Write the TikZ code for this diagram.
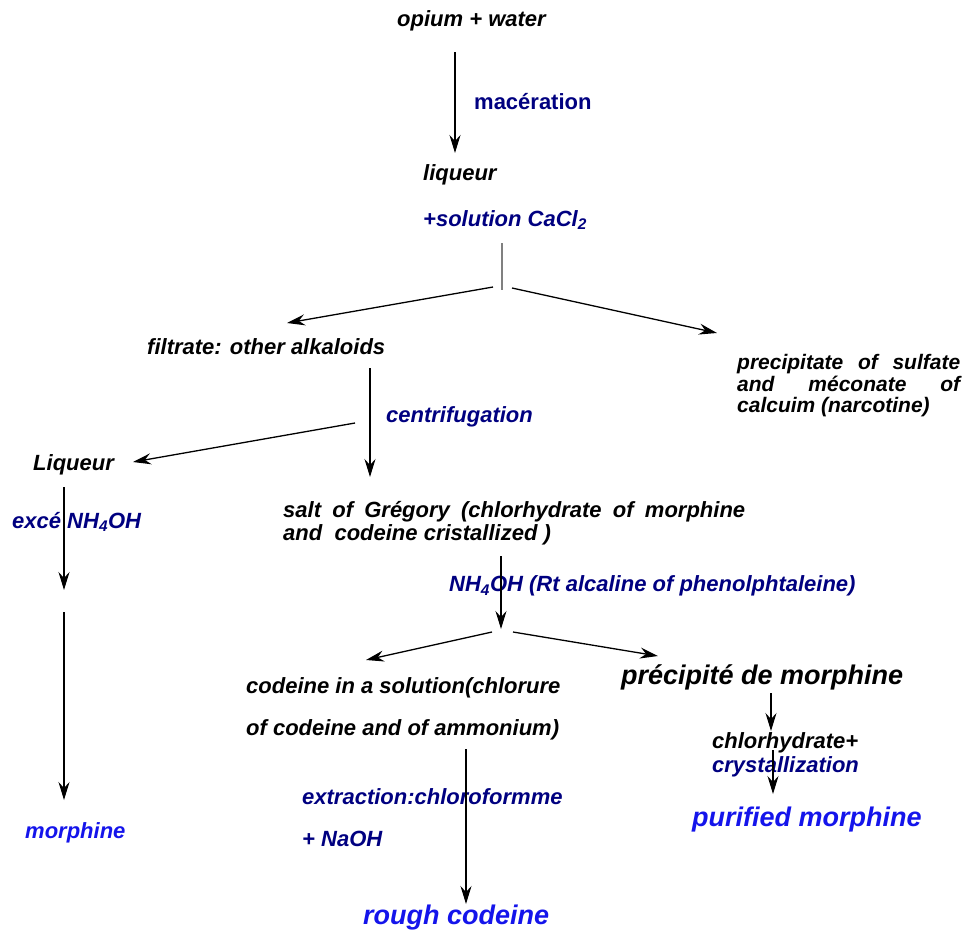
\documentclass[tikz,border=0pt]{standalone}
\usepackage{fontspec}
\setmainfont{Liberation Sans}
\usetikzlibrary{arrows.meta}
\definecolor{condnavy}{RGB}{0,0,128}
\definecolor{prodblue}{RGB}{20,20,235}
\tikzset{
    txt/.style={font=\fontsize{22}{22}\selectfont\bfseries\itshape, inner sep=0pt, anchor=west, align=left},
    cond/.style={txt, text=condnavy},
    prod/.style={txt, text=prodblue},
    big/.style={font=\fontsize{27}{30}\selectfont\bfseries\itshape},
    flow/.style={-{Stealth[length=18pt,width=11pt,inset=6pt]}, line width=1.3pt},
    split/.style={line width=1.3pt}
}
\begin{document}
\begin{tikzpicture}[x=1pt,y=-1pt]
                    \useasboundingbox (0,0) rectangle (970,935);

                    % texts
                    \node[txt] (opium) at (397,21) {opium + water};
                    \node[cond, font=\fontsize{22}{22}\selectfont\bfseries] (macer) at (474,102) {macération};
                    \node[txt] (liq) at (423,175) {liqueur};
                    \node[cond] (cacl) at (423,220) {+solution CaCl\textsubscript{2}};
                    \node[txt] (filtrate) at (147,347) {filtrate: other alkaloids};
                    \node[txt, font=\fontsize{21}{21.5}\selectfont\bfseries\itshape] (precip) at (737,386) {\makebox[223pt][s]{precipitate of sulfate}\\\makebox[223pt][s]{and méconate of}\\calcuim (narcotine)};
                    \node[cond] (centri) at (386,417) {centrifugation};
                    \node[txt] (Liq) at (33,465) {Liqueur};
                    \node[cond] (exces) at (12,522) {excé NH\textsubscript{4}OH};
                    \node[prod] (morph) at (25,833) {morphine};
                    \node[txt, font=\fontsize{22}{23.5}\selectfont\bfseries\itshape] (salt) at (283,523) {\makebox[462pt][s]{salt of Grégory (chlorhydrate of morphine}\\and\ \ codeine cristallized )};
                    \node[cond] (nhoh) at (449,586) {NH\textsubscript{4}OH (Rt alcaline of phenolphtaleine)};
                    \node[txt, font=\fontsize{22}{42}\selectfont\bfseries\itshape] (codsol) at (246,709) {codeine in a solution(chlorure\\of codeine and of ammonium)};
                    \node[cond, font=\fontsize{22}{42}\selectfont\bfseries\itshape] (extr) at (302,818) {extraction:chloroformme\\+ NaOH};
                    \node[prod, big] (rough) at (363,918) {rough codeine};
                    \node[txt, big] (pmorph) at (621,677) {précipité de morphine};
                    \node[txt, font=\fontsize{22}{24}\selectfont\bfseries\itshape] (chlor) at (712,755) {chlorhydrate+\\\textcolor{condnavy}{crystallization}};
                    \node[prod, big] (purif) at (692,820) {purified morphine};

                    % connector ends
                    \coordinate (s1) at (455,52);   \coordinate (e1) at (455,153);
                    \coordinate (s2) at (502,243);  \coordinate (e2) at (502,290);
                    \coordinate (s3) at (493,287);  \coordinate (e3) at (287,323);
                    \coordinate (s4) at (512,288);  \coordinate (e4) at (717,333);
                    \coordinate (s5) at (370,368);  \coordinate (e5) at (370,477);
                    \coordinate (s6) at (355,423);  \coordinate (e6) at (133,462);
                    \coordinate (s7) at (64,487);   \coordinate (e7) at (64,590);
                    \coordinate (s8) at (64,612);   \coordinate (e8) at (64,800);
                    \coordinate (s9) at (501,556);  \coordinate (e9) at (501,629);
                    \coordinate (s10) at (492,632); \coordinate (e10) at (366,660);
                    \coordinate (s11) at (513,632); \coordinate (e11) at (658,656);
                    \coordinate (s12) at (466,749); \coordinate (e12) at (466,904);
                    \coordinate (s13) at (771,693); \coordinate (e13) at (771,731);
                    \coordinate (s14) at (773,750); \coordinate (e14) at (773,794);

                    % connectors
                    \draw[flow] (s1) -- (e1);
                    \draw[split, gray] (s2) -- (e2);
                    \foreach \k in {3,4,5,6,7,8,9,10,11,12,13,14}
                        \draw[flow] (s\k) -- (e\k);
                \end{tikzpicture}
\end{document}
